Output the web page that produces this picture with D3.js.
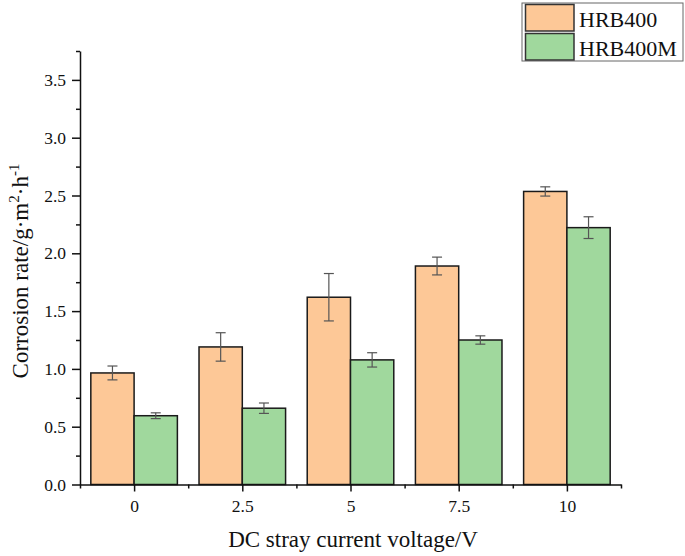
<!DOCTYPE html>
<html>
<head>
<meta charset="utf-8">
<script src="https://cdn.jsdelivr.net/npm/d3@7"></script>
<style>
  body { margin: 0; background: #fff; }
  svg text { font-family: "Liberation Serif", "Times New Roman", serif !important; fill: #111; }
</style>
</head>
<body>
<svg id="chart" width="685" height="556"></svg>
<script>
// data
const voltages = [0, 2.5, 5, 7.5, 10];
const seriesNames = ["HRB400", "HRB400M"];
const hrb400 = [0.965, 1.19, 1.62, 1.89, 2.535];
const hrb400Err = [0.06, 0.123, 0.205, 0.077, 0.04];
const hrb400m = [0.595, 0.66, 1.078, 1.25, 2.222];
const hrb400mErr = [0.025, 0.045, 0.062, 0.036, 0.094];
const yTicks = [0, 0.5, 1.0, 1.5, 2.0, 2.5, 3.0, 3.5];

const colors = ["#fdc897", "#a0d89d"];

const svg = d3.select("#chart");
const mLeft = 80, mRight = 621, mTop = 51, mBottom = 484.5;

const x = d3.scaleLinear().domain([-1.25, 11.25]).range([mLeft, mRight]);
const y = d3.scaleLinear().domain([0, 3.75]).range([mBottom, mTop]);

const barW = x(1) - x(0);

const series = [
  { name: seriesNames[0], vals: hrb400, err: hrb400Err, off: -0.5 },
  { name: seriesNames[1], vals: hrb400m, err: hrb400mErr, off: 0.5 }
];

// bars
series.forEach((s, si) => {
  const g = svg.append("g");
  g.selectAll("rect")
    .data(voltages)
    .join("rect")
    .attr("x", (d, i) => x(d + s.off) - barW / 2)
    .attr("y", (d, i) => y(s.vals[i]))
    .attr("width", barW)
    .attr("height", (d, i) => y(0) - y(s.vals[i]))
    .attr("fill", colors[si])
    .attr("stroke", "#1a1a1a")
    .attr("stroke-width", 1.5);

  // error bars
  const e = svg.append("g").attr("stroke", "#555").attr("stroke-width", 1.2);
  voltages.forEach((d, i) => {
    const cx = x(d + s.off);
    const y1 = y(s.vals[i] + s.err[i]), y2 = y(s.vals[i] - s.err[i]);
    e.append("line").attr("x1", cx).attr("x2", cx).attr("y1", y1).attr("y2", y2);
    e.append("line").attr("x1", cx - 5).attr("x2", cx + 5).attr("y1", y1).attr("y2", y1);
    e.append("line").attr("x1", cx - 5).attr("x2", cx + 5).attr("y1", y2).attr("y2", y2);
  });
});

// y axis
const yAxis = svg.append("g")
  .attr("transform", `translate(${mLeft},0)`)
  .attr("font-family", null)
  .call(d3.axisLeft(y).tickValues(yTicks).tickFormat(d3.format(".1f")).tickSize(8).tickSizeOuter(0));
svg.append("g")
  .attr("transform", `translate(${mLeft},0)`)
  .call(d3.axisLeft(y).tickValues(d3.range(0.25, 3.8, 0.5)).tickFormat("").tickSize(4).tickSizeOuter(0))
  .select(".domain").remove();

// x axis
const xAxis = svg.append("g")
  .attr("transform", `translate(0,${mBottom})`)
  .call(d3.axisBottom(x).tickValues(voltages).tickFormat(d => d).tickSize(7).tickSizeOuter(0));
svg.append("g")
  .attr("transform", `translate(0,${mBottom})`)
  .call(d3.axisBottom(x).tickValues(d3.range(-1.25, 11.3, 2.5)).tickFormat("").tickSize(4).tickSizeOuter(0))
  .select(".domain").remove();

yAxis.attr("font-family", "Liberation Serif");
xAxis.attr("font-family", "Liberation Serif");

svg.selectAll(".domain, .tick line").attr("stroke", "#111").attr("stroke-width", 1.5);
yAxis.selectAll(".tick text").attr("font-size", 17.5).attr("x", -14).attr("fill", "#111");
xAxis.selectAll(".tick text").attr("font-size", 17.5).attr("dy", null).attr("y", 27).attr("fill", "#111");

// axis titles
svg.append("text")
  .attr("x", 353).attr("y", 547)
  .attr("text-anchor", "middle")
  .attr("font-size", 23)
  .text("DC stray current voltage/V");

const yt = svg.append("text")
  .attr("transform", "translate(28,271) rotate(-90)")
  .attr("text-anchor", "middle")
  .attr("font-size", 23);
yt.append("tspan").text("Corrosion rate/g·m");
yt.append("tspan").attr("font-size", 15).attr("dy", -9).text("2");
yt.append("tspan").attr("dy", 9).text("·h");
yt.append("tspan").attr("font-size", 15).attr("dy", -9).text("-1");

// legend
const lg = svg.append("g");
lg.append("rect").attr("x", 522).attr("y", 3).attr("width", 161).attr("height", 58)
  .attr("fill", "#fff").attr("stroke", "#666").attr("stroke-width", 1);
seriesNames.forEach((n, i) => {
  lg.append("rect").attr("x", 525.5).attr("y", 4.5 + i * 29).attr("width", 48.5).attr("height", 26.5)
    .attr("fill", colors[i]).attr("stroke", "#333").attr("stroke-width", 1.5);
  lg.append("text").attr("x", 579).attr("y", 27 + i * 28.5).attr("font-size", 22).text(n);
});
</script>
</body>
</html>
